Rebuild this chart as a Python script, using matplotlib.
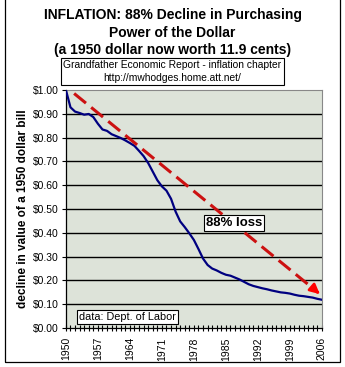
import matplotlib.pyplot as plt
from matplotlib.patches import Rectangle

# -------------------------
# Data: value of a 1950 dollar
# -------------------------
years = list(range(1950, 2007))
values = [1.000, 0.927, 0.909, 0.903, 0.896, 0.899, 0.886, 0.858, 0.834, 0.828,
          0.814, 0.806, 0.798, 0.788, 0.777, 0.765, 0.744, 0.722, 0.693, 0.657,
          0.621, 0.595, 0.577, 0.543, 0.489, 0.448, 0.424, 0.398, 0.370, 0.332,
          0.292, 0.265, 0.250, 0.242, 0.232, 0.224, 0.220, 0.212, 0.204, 0.194,
          0.184, 0.177, 0.172, 0.167, 0.163, 0.158, 0.154, 0.150, 0.148, 0.145,
          0.140, 0.136, 0.134, 0.131, 0.128, 0.123, 0.119]
label_years = [1950, 1957, 1964, 1971, 1978, 1985, 1992, 1999, 2006]
y_ticks = [0.0, 0.1, 0.2, 0.3, 0.4, 0.5, 0.6, 0.7, 0.8, 0.9, 1.0]
arrow_start = (1951.8, 0.985)
arrow_end = (2006, 0.135)

plt.rcParams['font.family'] = ['Liberation Sans', 'DejaVu Sans']

fig = plt.figure(figsize=(3.45, 3.67), dpi=100)
ax = fig.add_axes([0.191, 0.106, 0.742, 0.649])
ax.set_facecolor('#dde3d9')

# -------------------------
# Gridlines and curve
# -------------------------
for yv in y_ticks[1:-1]:
    ax.axhline(yv, color='black', lw=1.0, zorder=1)

ax.plot(years, values, color='#000080', lw=1.6, zorder=3)

# dashed red arrow
ax.plot([arrow_start[0], arrow_end[0] - 1.2], [arrow_start[1], arrow_end[1] + 0.02],
        color='#cc1111', lw=2.2, dashes=(5, 2.2), zorder=4)
ax.annotate('', xy=arrow_end, xytext=(arrow_end[0] - 1.5, arrow_end[1] + 0.025),
            arrowprops=dict(arrowstyle='-|>', color='#ff0000', lw=2,
                            mutation_scale=14), zorder=5)

ax.text(1986.7, 0.44, '88% loss', fontsize=9.5, fontweight='bold',
        ha='center', va='center', zorder=6,
        bbox=dict(boxstyle='square,pad=0.15', fc='white', ec='black', lw=0.8))
ax.text(1952.8, 0.046, 'data: Dept. of Labor', fontsize=7.8,
        ha='left', va='center', zorder=6,
        bbox=dict(boxstyle='square,pad=0.2', fc='white', ec='black', lw=0.8))

# -------------------------
# Axes
# -------------------------
ax.set_xlim(1950, 2006)
ax.set_ylim(0, 1.0)
ax.set_yticks(y_ticks)
ax.set_yticklabels(['$%.2f' % v for v in y_ticks], fontsize=7.5)
ax.set_xticks(label_years)
ax.set_xticklabels([str(y) for y in label_years], rotation=90, fontsize=7.5)
ax.set_xticks(years, minor=True)
ax.tick_params(axis='x', which='both', direction='inout', length=5, width=0.8, pad=4)
ax.tick_params(axis='y', direction='out', length=3, width=0.8, pad=2)
ax.spines['top'].set_color('#888888')
ax.spines['right'].set_color('#888888')
ax.spines['left'].set_linewidth(0.9)
ax.spines['bottom'].set_linewidth(0.9)

ax.set_ylabel('decline in value of a 1950 dollar bill', fontsize=8.5,
              fontweight='bold', labelpad=3)

# -------------------------
# Titles and frame
# -------------------------
fig.text(0.5, 0.958, 'INFLATION: 88% Decline in Purchasing', ha='center', va='center',
         fontsize=10, fontweight='bold')
fig.text(0.5, 0.911, 'Power of the Dollar', ha='center', va='center',
         fontsize=10, fontweight='bold')
fig.text(0.5, 0.863, '(a 1950 dollar now worth 11.9 cents)', ha='center', va='center',
         fontsize=10, fontweight='bold')
fig.text(0.5, 0.806, 'Grandfather Economic Report - inflation chapter\nhttp://mwhodges.home.att.net/',
         ha='center', va='center', fontsize=7.4, linespacing=1.35,
         bbox=dict(boxstyle='square,pad=0.2', fc='white', ec='black', lw=0.8))

fig.patches.append(Rectangle((5 / 345, 5 / 367), 335 / 345, 0.995, transform=fig.transFigure,
                             fill=False, ec='black', lw=0.9))

fig.savefig('out.png', dpi=100)
